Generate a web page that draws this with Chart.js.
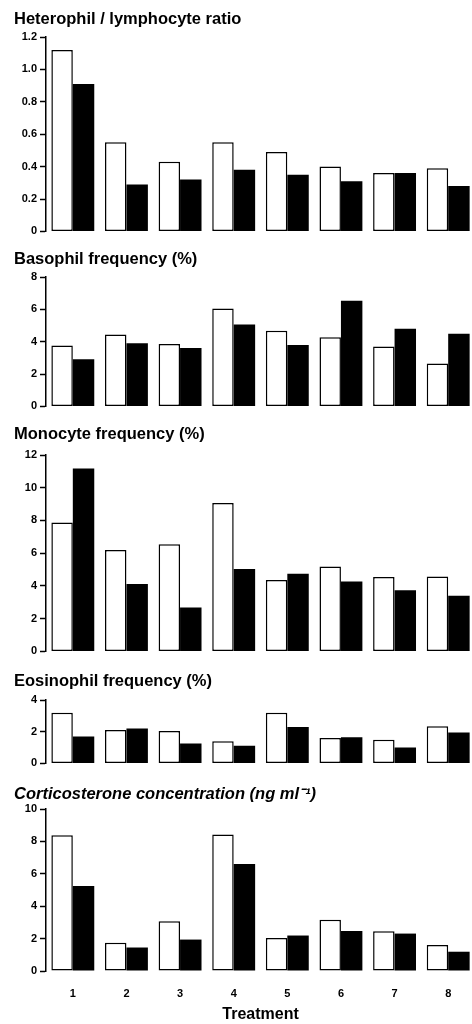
<!DOCTYPE html>
<html>
<head>
<meta charset="utf-8">
<script src="https://cdn.jsdelivr.net/npm/chart.js@4/dist/chart.umd.min.js"></script>
<style>
  html, body { margin: 0; padding: 0; background: #fff; overflow: hidden; }
  body { width: 472px; height: 1024px; position: relative; }
  .panel { position: absolute; left: 0; width: 480px; }
</style>
</head>
<body>
<div class="panel" style="top:10px;height:231px"><canvas id="c1"></canvas></div>
<div class="panel" style="top:250px;height:166px"><canvas id="c2"></canvas></div>
<div class="panel" style="top:425px;height:236px"><canvas id="c3"></canvas></div>
<div class="panel" style="top:672px;height:101px"><canvas id="c4"></canvas></div>
<div class="panel" style="top:785px;height:239px"><canvas id="c5"></canvas></div>
<script>
// treatments 1..8, white bar then black bar for each
const treatments = ['1', '2', '3', '4', '5', '6', '7', '8'];

const hlWhite = [1.12, 0.55, 0.43, 0.55, 0.49, 0.40, 0.36, 0.39];
const hlBlack = [0.91, 0.29, 0.32, 0.38, 0.35, 0.31, 0.36, 0.28];

const basoWhite = [3.76, 4.45, 3.86, 6.05, 4.68, 4.28, 3.70, 2.65];
const basoBlack = [2.92, 3.90, 3.61, 5.07, 3.80, 6.53, 4.80, 4.49];

const monoWhite = [7.88, 6.20, 6.54, 9.07, 4.37, 5.18, 4.54, 4.58];
const monoBlack = [11.18, 4.12, 2.68, 5.03, 4.74, 4.27, 3.73, 3.40];

const eosWhite = [3.2, 2.1, 2.05, 1.4, 3.2, 1.6, 1.5, 2.35];
const eosBlack = [1.7, 2.2, 1.25, 1.12, 2.3, 1.65, 1.0, 1.95];

const corWhite = [8.38, 1.74, 3.07, 8.43, 2.04, 3.17, 2.45, 1.60];
const corBlack = [5.24, 1.45, 1.94, 6.60, 2.19, 2.47, 2.31, 1.19];

// y axis ticks: [max, step]
const hlTicks = [1.2, 0.2];
const basoTicks = [8, 2];
const monoTicks = [12, 2];
const eosTicks = [4, 2];
const corTicks = [10, 2];

const FONT = "'Liberation Sans', Arial, Helvetica, sans-serif";

function makePanel(id, title, white, black, ticks, titlePad, opts) {
  opts = opts || {};
  const last = !!opts.last;
  new Chart(document.getElementById(id), {
    type: 'bar',
    data: {
      labels: treatments,
      datasets: [
        {
          data: white,
          backgroundColor: '#fff',
          borderColor: '#000',
          borderWidth: 1.5,
          borderSkipped: false
        },
        {
          data: black,
          backgroundColor: '#000',
          borderColor: '#000',
          borderWidth: 0
        }
      ]
    },
    options: {
      responsive: true,
      maintainAspectRatio: false,
      animation: false,
      events: [],
      layout: { padding: { left: 14, right: 5, top: 0, bottom: last ? 0 : 8 } },
      datasets: { bar: { categoryPercentage: 0.8, barPercentage: 1.0 } },
      plugins: {
        legend: { display: false },
        tooltip: { enabled: false },
        title: {
          display: true,
          text: title,
          align: 'start',
          color: '#000',
          font: { family: FONT, size: 16.5, weight: 'bold', style: opts.italic ? 'italic' : 'normal' },
          padding: { top: 0, bottom: titlePad }
        }
      },
      scales: {
        x: {
          display: last,
          // only the bottom panel has x labels; fix its height so labels + title land right
          afterFit: last ? function (s) { s.height = 53; } : undefined,
          grid: { display: false, drawTicks: false },
          border: { display: false },
          ticks: { color: '#000', padding: 16, font: { family: FONT, size: 11, weight: 'bold' } },
          title: {
            display: last,
            text: 'Treatment',
            color: '#000',
            font: { family: FONT, size: 16, weight: 'bold' },
            padding: { top: 4, bottom: 0 }
          }
        },
        y: {
          min: 0,
          max: ticks[0],
          afterFit: function (s) { s.width = 32; },
          grid: { drawOnChartArea: false, tickLength: 6, tickColor: '#000', tickWidth: 1.5 },
          border: { display: true, color: '#000', width: 1.5 },
          ticks: {
            stepSize: ticks[1],
            padding: 3,
            color: '#000',
            font: { family: FONT, size: 11, weight: 'bold' },
            callback: function (v) {
              if (v === 0) return '0';
              return ticks[1] < 1 ? v.toFixed(1) : String(v);
            }
          }
        }
      }
    }
  });
}

makePanel('c1', 'Heterophil / lymphocyte ratio', hlWhite, hlBlack, hlTicks, 7.2);
makePanel('c2', 'Basophil frequency (%)', basoWhite, basoBlack, basoTicks, 7.2);
makePanel('c3', 'Monocyte frequency (%)', monoWhite, monoBlack, monoTicks, 10.2);
makePanel('c4', 'Eosinophil frequency (%)', eosWhite, eosBlack, eosTicks, 8.2);
makePanel('c5', 'Corticosterone concentration (ng ml\u207B\u00B9)', corWhite, corBlack, corTicks, 4.2, { last: true, italic: true });
</script>
</body>
</html>
